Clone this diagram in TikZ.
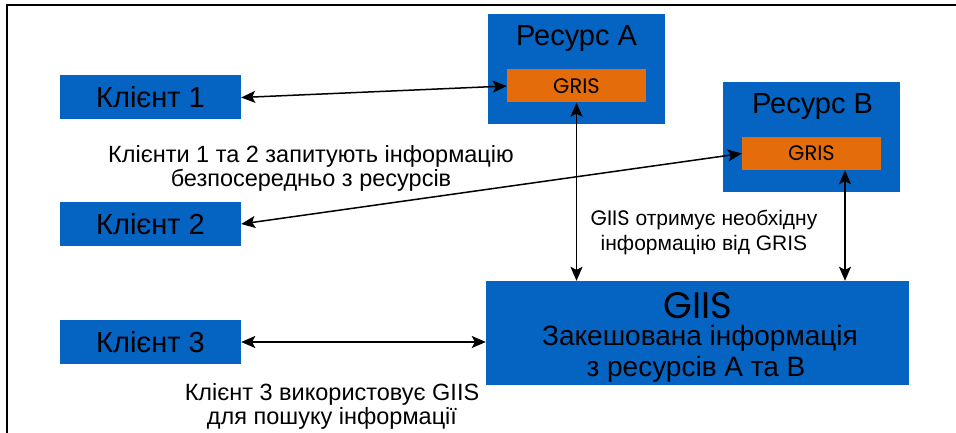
\documentclass[tikz,border=0pt]{standalone}
\usepackage{fontspec}
\setmainfont{Liberation Sans}
\newfontfamily\gothfont{Poppins}
\usetikzlibrary{arrows.meta}
\definecolor{boxblue}{RGB}{5,99,193}
\definecolor{grisorange}{RGB}{228,108,10}
\begin{document}
\begin{tikzpicture}[x=1pt,y=-1pt,
    >={Stealth[length=14pt,width=12pt,inset=3pt]},
    box/.style={fill=boxblue,inner sep=0pt,font=\fontsize{29}{32}\selectfont},
    client/.style={box,minimum width=181pt,minimum height=44pt},
    res/.style={box,minimum width=177pt,minimum height=110pt},
    gris/.style={fill=grisorange,inner sep=0pt,minimum width=139pt,minimum height=33pt,
      font=\gothfont\fontsize{21}{24}\selectfont},
    reslbl/.style={anchor=base,inner sep=0pt,font=\fontsize{29}{32}\selectfont},
    note/.style={align=center,inner sep=0pt,font=\fontsize{23.5}{24}\selectfont},
    link/.style={<->,line width=1.5pt}
  ]
  \useasboundingbox (0,0) rectangle (956,433);
  \draw[line width=1.2pt] (956,5) -- (7,5) -- (7,433);

  \node[client] (cl1) at (150.5,97.5) {Клієнт 1};
  \node[client] (cl2) at (150.5,224) {Клієнт 2};
  \node[client] (cl3) at (150.5,342) {Клієнт 3};

  \node[res] (resA) at (576.5,69.5) {};
  \node[reslbl] (resAlbl) at (576.5,46) {Ресурс А};
  \node[gris] (grisA) at (576.5,86) {GRIS};

  \node[res] (resB) at (811.5,137) {};
  \node[reslbl] (resBlbl) at (812.5,114) {Ресурс В};
  \node[gris] (grisB) at (811.5,153.5) {GRIS};

  \node[box,minimum width=423pt,minimum height=104pt] (giis) at (697.5,333) {};
  \node[reslbl,font=\gothfont\fontsize{37}{37}\selectfont] (giislbl) at (698,318) {GIIS};
  \node[reslbl,font=\fontsize{28}{31}\selectfont] (cachelbl) at (700,345) {Закешована інформація};
  \node[reslbl,font=\fontsize{28}{31}\selectfont] (cachelbl2) at (696,376) {з ресурсів А та В};

  \node[note] (txt12) at (311,168) {Клієнти 1 та 2 запитують інформацію\\безпосередньо з ресурсів};
  \node[note,font=\fontsize{21}{25}\selectfont] (txtG) at (704,232) {{\gothfont GIIS} отримує необхідну\\інформацію від GRIS};
  \node[note] (txt3) at (332,406) {Клієнт 3 використовує GIIS\\для пошуку інформації};

  \draw[link] (cl1.east) -- (grisA.west);
  \draw[link] (cl2.east) -- (grisB.west);
  \draw[link] (cl3.east) -- (cl3.east -| giis.west);
  \draw[link] (grisA.south) -- (grisA.south |- giis.north);
  \draw[link] ([xshift=33.5pt]grisB.south) -- ([xshift=33.5pt]grisB.south |- giis.north);
\end{tikzpicture}
\end{document}
